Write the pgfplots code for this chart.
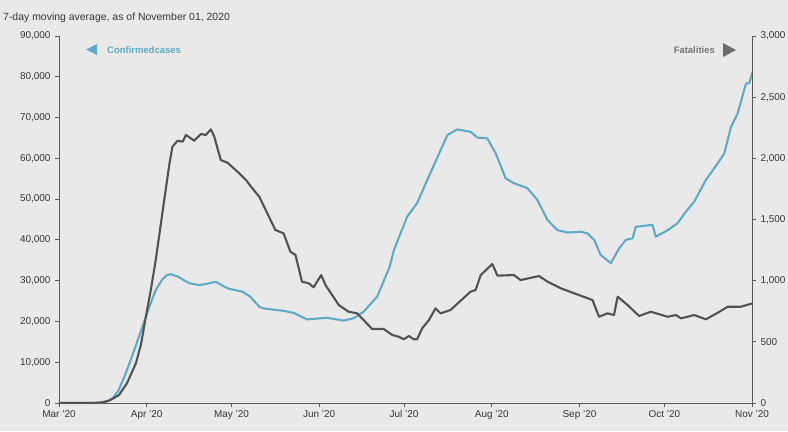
\documentclass[border=0pt]{standalone}
\usepackage{pgfplots}
\pgfplotsset{compat=1.18}
\usepackage{fontspec}
\setmainfont{Liberation Sans}
\definecolor{bg}{RGB}{233,233,233}
\definecolor{cblue}{RGB}{96,170,198}
\definecolor{fgray}{RGB}{82,82,82}
\definecolor{axcol}{RGB}{90,90,90}
\definecolor{txt}{RGB}{55,55,55}
\begin{document}
\begin{tikzpicture}[x=1bp,y=1bp]
\clip (-59,-28) rectangle (729,403);
\fill[bg] (-59,-28) rectangle (729,403);
\pgfplotsset{
  base/.style={
    at={(0,0)}, anchor=south west,
    scale only axis, width=693bp, height=367bp,
    xmin=0, xmax=245, ymin=0,
    axis line style={axcol, line width=0.9pt, -},
    tick style={axcol, line width=0.8pt},
    tick align=outside, major tick length=4bp,
    ticklabel style={font=\fontsize{10}{12}\selectfont, text=txt},
    scaled y ticks=false,
    /pgf/number format/1000 sep={,},
    /pgf/number format/assume math mode=true,
    line join=round,
  }
}
\begin{axis}[base,
  ymax=90000,
  axis y line*=left, axis x line*=bottom,
  xtick={0,31,61,92,122,153,184,214,245},
  xticklabels={Mar '20,Apr '20,May '20,Jun '20,Jul '20,Aug '20,Sep '20,Oct '20,Nov '20},
  ytick={0,10000,...,90000},
  yticklabel style={xshift=-1bp},
]
\addplot[cblue, line width=2.1pt] coordinates {
(0,0) (10,0) (14.5,100) (17,400) (19,1200) (21,3000) (23.6,7300) (26,11800)
(29.5,18700) (32,23700) (34.2,27700) (36.5,30300) (38,31300) (39.5,31600)
(42,31000) (46.0,29400) (49.6,28900) (52,29200) (55.5,29700) (58,28700) (60.2,28000) (64.9,27300) (67.6,26100)
(70.8,23600) (72.3,23200) (79.4,22600) (83.0,22100) (87.7,20500) (94.8,20900)
(100.7,20200) (104.2,20800) (107.7,22400) (112.5,26100) (116.9,33400)
(118.4,37500) (123.1,45700) (126.6,49000) (130.2,54700) (137.3,65700)
(140.8,67100) (145.5,66500) (147.9,65100) (151.4,64900) (154.4,61200)
(157.9,55100) (160.8,53900) (165.6,52700) (169.1,49800) (172.7,44900)
(176.2,42400) (179.8,41800) (184.5,42000) (186.8,41600) (189.2,40000)
(191.5,36300) (195.1,34300) (198.0,37900) (200.4,40000) (202.8,40400)
(203.9,43200) (209.8,43700) (211.0,40800) (215.2,42400) (218.7,44100)
(221.6,46900) (224.6,49400) (228.7,54700) (232.9,58800) (235.2,61200)
(237.6,67800) (239.9,71000) (242.9,78400) (244.0,78400) (245.2,81200)
};
\end{axis}
\begin{axis}[base,
  ymax=3000,
  axis y line*=right, axis x line=none,
  ytick={0,500,...,3000},
  yticklabel style={xshift=1bp},
]
\addplot[fgray, line width=2.1pt] coordinates {
(0,0) (12,0) (15.3,5) (18,22) (21.2,65) (24,160) (27.2,325) (29,480)
(30.7,705) (32.5,930) (34.2,1169) (37.2,1659) (39,1950) (40.1,2095)
(41.9,2144) (43.7,2136) (44.9,2191) (47.8,2144) (50.2,2199)
(51.9,2191) (53.7,2237) (54.9,2177) (57.2,1986) (59.6,1964) (63.7,1878)
(66.1,1823) (67.9,1768) (70.8,1686) (76.5,1414) (79.4,1387) (81.8,1237)
(83.6,1210) (85.9,992) (88.3,978) (90.0,946) (92.7,1046) (94.2,965)
(98.9,801) (102.4,746) (105.4,733) (107.7,678) (110.7,605) (114.8,605)
(117.8,556) (120.1,542) (121.9,521) (123.7,548) (125.4,521) (126.6,521)
(128.4,611) (130.8,678) (133.1,774) (134.9,733) (138.4,760) (145.5,910)
(147.3,924) (149.1,1046) (153.2,1136) (155.0,1041) (160.8,1046) (163.2,1005)
(169.7,1038) (172.7,992) (177.4,938) (182.1,897) (188.6,842) (190.9,705)
(193.9,733) (196.2,719) (197.5,869) (201.0,801) (205.1,711) (209.2,746)
(215.2,705) (218.1,719) (219.9,692) (224.6,719) (228.7,684) (232.9,738)
(236.4,787) (241.1,787) (245.2,815)
};
\end{axis}
\node[anchor=base west, inner sep=0, text=txt, font=\fontsize{10.5}{12}\selectfont] at (-56,383) {7-day moving average, as of November 01, 2020};
\fill[cblue] (27,353.5) -- (38,359) -- (38,348) -- cycle;
\node[anchor=base west, inner sep=0, text=cblue, font=\fontsize{9.5}{11}\selectfont\bfseries] at (48,350) {Confirmedcases};
\fill[fgray!85] (664,360) -- (664,346) -- (677,353) -- cycle;
\node[anchor=base east, inner sep=0, text=fgray!80, font=\fontsize{9.5}{11}\selectfont\bfseries] at (656,350) {Fatalities};
\end{tikzpicture}
\end{document}
